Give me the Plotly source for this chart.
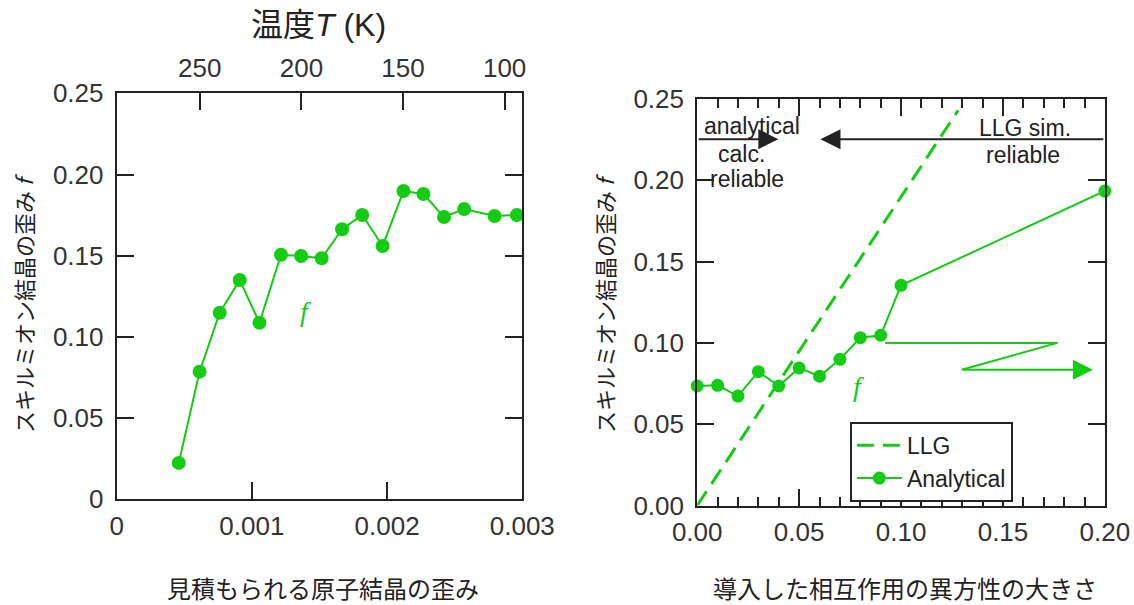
import plotly.graph_objects as go

# ---------------- data ----------------
# left panel: estimated atomic-lattice strain vs skyrmion-lattice distortion f
strain = [0.000459, 0.000613, 0.000762, 0.000910, 0.001056, 0.001215, 0.001364,
          0.001516, 0.001667, 0.001816, 0.001967, 0.002121, 0.002269, 0.002421,
          0.002570, 0.002795, 0.002960]
f_left = [0.0224, 0.0786, 0.1149, 0.1350, 0.1087, 0.1506, 0.1498,
          0.1484, 0.1663, 0.1751, 0.1560, 0.1898, 0.1880, 0.1738,
          0.1788, 0.1744, 0.1751]
left_x_ticks = [0, 0.001, 0.002, 0.003]
left_x_ticktext = ["0", "0.001", "0.002", "0.003"]
left_y_ticks = [0, 0.05, 0.10, 0.15, 0.20, 0.25]
left_y_ticktext = ["0", "0.05", "0.10", "0.15", "0.20", "0.25"]
temp_ticks = [250, 200, 150, 100]
temp_range = [290.9, 91.3]

# right panel: anisotropy of interaction vs f
aniso = [0.00, 0.01, 0.02, 0.03, 0.04, 0.05, 0.06, 0.07, 0.08, 0.09, 0.10, 0.20]
f_right = [0.0735, 0.0739, 0.0673, 0.0823, 0.0735, 0.0846, 0.0795, 0.0899,
           0.1032, 0.1047, 0.1354, 0.1934]
right_x_ticks = [0.00, 0.05, 0.10, 0.15, 0.20]
right_y_ticks = [0.00, 0.05, 0.10, 0.15, 0.20, 0.25]
llg_x = [0.0, 0.128]
llg_y = [0.0, 0.243]
zig_x = [0.0922, 0.1768, 0.1297]
zig_y = [0.100, 0.100, 0.0835]
zig_arrow_end = [0.1941, 0.0835]
reliable_y = 0.2253
analytical_arrow_tip = 0.0398
llg_arrow_tip = 0.0605

GREEN = "#14cc14"
INK = "#222222"
TICKFONT = dict(family="Liberation Sans, Arial, sans-serif", size=26, color="#333333")
JP = "Noto Sans CJK JP, sans-serif"
W, H = 1134, 605

fig = go.Figure()

fig.add_trace(go.Scatter(x=strain, y=f_left, mode="lines+markers", xaxis="x", yaxis="y",
                         line=dict(color=GREEN, width=2), marker=dict(color=GREEN, size=14),
                         showlegend=False, hoverinfo="skip"))
# invisible trace to carry the temperature axis
fig.add_trace(go.Scatter(x=temp_ticks, y=[None] * len(temp_ticks), xaxis="x3", yaxis="y",
                         mode="lines", showlegend=False, hoverinfo="skip"))
# invisible trace to carry the minor-tick axis of the right panel
fig.add_trace(go.Scatter(x=right_x_ticks, y=[None] * len(right_x_ticks), xaxis="x4", yaxis="y2",
                         mode="lines", showlegend=False, hoverinfo="skip"))

fig.add_trace(go.Scatter(x=llg_x, y=llg_y, mode="lines", name="LLG", xaxis="x2", yaxis="y2",
                         line=dict(color=GREEN, width=3, dash="17px,9px")))
fig.add_trace(go.Scatter(x=aniso, y=f_right, mode="lines+markers", name="Analytical",
                         xaxis="x2", yaxis="y2", line=dict(color=GREEN, width=2),
                         marker=dict(color=GREEN, size=13), cliponaxis=False))
fig.add_trace(go.Scatter(x=zig_x, y=zig_y, mode="lines", xaxis="x2", yaxis="y2",
                         line=dict(color=GREEN, width=2), showlegend=False, hoverinfo="skip"))

axis_common = dict(showline=True, linewidth=2, linecolor=INK, ticks="inside", ticklen=17,
                   tickwidth=2, tickcolor=INK, showgrid=False, zeroline=False,
                   tickfont=TICKFONT, automargin=False)

fig.update_layout(
    width=W, height=H, margin=dict(l=0, r=0, t=0, b=0, pad=0), autosize=False,
    paper_bgcolor="white", plot_bgcolor="white",
    xaxis=dict(domain=[116.7 / W, 522.3 / W], range=[0, 0.003], anchor="y",
               tickvals=left_x_ticks, ticktext=left_x_ticktext, ticklabelstandoff=2,
               **axis_common),
    yaxis=dict(domain=[1 - 499.3 / H, 1 - 93.3 / H], range=[0, 0.25], anchor="x",
               tickvals=left_y_ticks, ticktext=left_y_ticktext, mirror="ticks",
               ticklabelstandoff=6, **axis_common),
    xaxis3=dict(overlaying="x", side="top", anchor="y", range=temp_range,
                tickvals=temp_ticks, ticktext=[str(t) for t in temp_ticks],
                ticklabelstandoff=4, **axis_common),
    xaxis2=dict(domain=[697.2 / W, 1104.9 / W], range=[0, 0.2], anchor="y2",
                tickvals=right_x_ticks, tickformat=".2f", mirror="ticks",
                ticklabelstandoff=2, **axis_common),
    xaxis4=dict(overlaying="x2", anchor="y2", range=[0, 0.2], tickmode="linear", tick0=0,
                dtick=0.01, ticks="inside", ticklen=9, tickwidth=2, tickcolor=INK,
                showticklabels=False, showline=False, showgrid=False, zeroline=False,
                mirror="ticks", automargin=False),
    yaxis2=dict(domain=[1 - 505.5 / H, 1 - 99 / H], range=[0, 0.25], anchor="x2",
                tickvals=right_y_ticks, tickformat=".2f", mirror="ticks",
                ticklabelstandoff=6, **axis_common),
    legend=dict(x=849.9 / W, y=1 - 421.7 / H, xanchor="left", yanchor="top",
                bgcolor="white", bordercolor=INK, borderwidth=2,
                font=dict(family="Liberation Sans, Arial, sans-serif", size=23, color=INK),
                tracegroupgap=0, itemwidth=45),
)

def pa(text, px, py, font, angle=0):
    return dict(text=text, x=px / W, y=1 - py / H, xref="paper", yref="paper",
                xanchor="center", yanchor="middle", showarrow=False, textangle=angle, font=font)

ann = []
# axis titles
ann.append(pa("温度<i>T</i> (K)", 318.7, 25, dict(family="Liberation Sans, " + JP, size=32, color=INK)))
ann.append(pa("見積もられる原子結晶の歪み", 322.5, 587, dict(family=JP, size=24, color=INK)))
ann.append(pa("導入した相互作用の異方性の大きさ", 905, 587, dict(family=JP, size=24, color=INK)))
for xc in (23, 604):
    ann.append(pa("スキルミオン結晶の歪み <i>f</i>", xc, 303, dict(family=JP, size=22, color=INK), -90))
# green f labels
ann.append(dict(text="<i>f</i>", x=0.001393, y=0.1155, xref="x", yref="y", showarrow=False,
                xanchor="center", yanchor="middle",
                font=dict(family="Liberation Serif, serif", size=28, color=GREEN)))
ann.append(dict(text="<i>f</i>", x=0.079, y=0.073, xref="x2", yref="y2", showarrow=False,
                xanchor="center", yanchor="middle",
                font=dict(family="Liberation Serif, serif", size=28, color=GREEN)))
# reliability texts
txtfont = dict(family="Liberation Sans, Arial, sans-serif", size=23, color=INK)
for t, xv, yv in [("analytical", 0.0267, 0.2334), ("calc.", 0.0218, 0.2160),
                  ("reliable", 0.0243, 0.2008), ("LLG sim.", 0.1606, 0.2320),
                  ("reliable", 0.1600, 0.2156)]:
    ann.append(dict(text=t, x=xv, y=yv, xref="x2", yref="y2", showarrow=False,
                    xanchor="center", yanchor="middle", font=txtfont))
# black arrows
ann.append(dict(text="", x=analytical_arrow_tip, y=reliable_y, ax=0.0, ay=reliable_y,
                xref="x2", yref="y2", axref="x2", ayref="y2", showarrow=True,
                arrowhead=2, arrowsize=2.0, arrowwidth=2, arrowcolor=INK))
ann.append(dict(text="", x=llg_arrow_tip, y=reliable_y, ax=0.2, ay=reliable_y,
                xref="x2", yref="y2", axref="x2", ayref="y2", showarrow=True,
                arrowhead=2, arrowsize=2.0, arrowwidth=2, arrowcolor=INK))
# green zigzag arrow end
ann.append(dict(text="", x=zig_arrow_end[0], y=zig_arrow_end[1], ax=zig_x[-1], ay=zig_y[-1],
                xref="x2", yref="y2", axref="x2", ayref="y2", showarrow=True,
                arrowhead=2, arrowsize=2.0, arrowwidth=2, arrowcolor=GREEN))
fig.update_layout(annotations=ann)

fig.write_html("out.html", config={"displayModeBar": False},
               post_script="document.body.style.margin='0';document.body.style.overflow='hidden';")
